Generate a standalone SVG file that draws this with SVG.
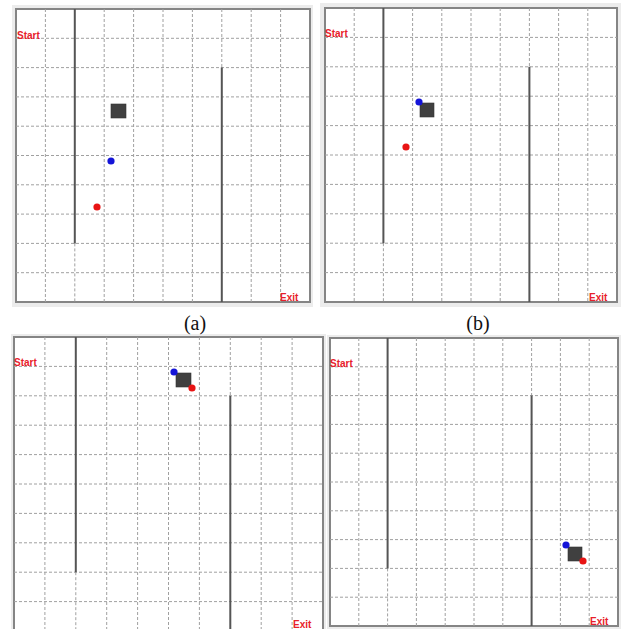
<svg xmlns="http://www.w3.org/2000/svg" width="621" height="629" viewBox="0 0 621 629">
<style>
.bg{fill:#ececec}
.frame{fill:#ffffff;stroke:#858585;stroke-width:2}
.grid{stroke:#a0a0a0;stroke-width:1;stroke-dasharray:3 2;fill:none}
.wall{stroke:#555555;stroke-width:2;fill:none}
.lbl{font-family:"Liberation Sans",Arial,sans-serif;font-weight:bold;font-size:10px;fill:#e8202a}
.block{fill:#404040;stroke:#333;stroke-width:0.6}
.blue{fill:#1414d8}
.red{fill:#e81414}
.cap{font-family:"Liberation Serif","Times New Roman",serif;font-size:20px;fill:#111;text-anchor:middle}
</style>
<rect width="621" height="629" fill="#ffffff"/>

<g id="panel-a">
<rect class="bg" x="12" y="5" width="301" height="302"/>
<rect class="frame" x="16" y="9" width="294" height="293"/>
<path class="grid" d="M45.4 9V302M104.2 9V302M133.6 9V302M163 9V302M192.4 9V302M251.2 9V302M280.6 9V302M74.8 243.4V302M221.8 9V67.6M16 38.3H310M16 67.6H310M16 96.9H310M16 126.2H310M16 155.5H310M16 184.8H310M16 214.1H310M16 243.4H310M16 272.7H310"/>
<path class="wall" d="M74.8 9V243.4M221.8 67.6V302"/>
<text class="lbl" x="17" y="38.5">Start</text>
<text class="lbl" x="280" y="300.5">Exit</text>
<rect class="block" x="111" y="104" width="15" height="14"/>
<circle class="blue" cx="111" cy="161" r="3.6"/>
<circle class="red" cx="97" cy="207" r="3.6"/>
</g>

<g id="panel-b">
<rect class="bg" x="320" y="3" width="301" height="304"/>
<rect class="frame" x="325" y="8" width="292" height="294"/>
<path class="grid" d="M354.2 8V302M412.6 8V302M441.8 8V302M471 8V302M500.2 8V302M558.6 8V302M587.8 8V302M383.4 243.2V302M529.4 8V66.8M325 37.4H617M325 66.8H617M325 96.2H617M325 125.6H617M325 155H617M325 184.4H617M325 213.8H617M325 243.2H617M325 272.6H617"/>
<path class="wall" d="M383.4 8V243.2M529.4 66.8V302"/>
<text class="lbl" x="325" y="37">Start</text>
<text class="lbl" x="589" y="300.5">Exit</text>
<rect class="block" x="420" y="103" width="14" height="14"/>
<circle class="blue" cx="419" cy="102" r="3.6"/>
<circle class="red" cx="406" cy="147" r="3.6"/>
</g>

<g id="panel-c">
<rect class="bg" x="11" y="334" width="315" height="295"/>
<rect class="frame" x="14" y="337" width="309" height="294"/>
<path class="grid" d="M44.9 337V631M106.7 337V631M137.6 337V631M168.5 337V631M199.4 337V631M261.2 337V631M292.1 337V631M75.8 572.2V631M230.3 337V395.8M14 366.4H323M14 395.8H323M14 425.2H323M14 454.6H323M14 484H323M14 513.4H323M14 542.8H323M14 572.2H323M14 601.6H323"/>
<path class="wall" d="M75.8 337V572.2M230.3 395.8V631"/>
<text class="lbl" x="14" y="366">Start</text>
<text class="lbl" x="293" y="628">Exit</text>
<rect class="block" x="176" y="373" width="15" height="14"/>
<circle class="blue" cx="174" cy="372" r="3.6"/>
<circle class="red" cx="192" cy="388" r="3.6"/>
</g>

<g id="panel-d">
<rect class="bg" x="327" y="335" width="294" height="294"/>
<rect class="frame" x="330" y="338" width="288" height="288"/>
<path class="grid" d="M358.8 338V626M416.4 338V626M445.2 338V626M474 338V626M502.8 338V626M560.4 338V626M589.2 338V626M387.6 568.4V626M531.6 338V395.6M330 366.8H618M330 395.6H618M330 424.4H618M330 453.2H618M330 482H618M330 510.8H618M330 539.6H618M330 568.4H618M330 597.2H618"/>
<path class="wall" d="M387.6 338V568.4M531.6 395.6V626"/>
<text class="lbl" x="330" y="367">Start</text>
<text class="lbl" x="590" y="625">Exit</text>
<rect class="block" x="568" y="547" width="14" height="14"/>
<circle class="blue" cx="566" cy="545" r="3.6"/>
<circle class="red" cx="583" cy="561" r="3.6"/>
</g>

<g id="captions">
<text class="cap" x="195" y="330">(a)</text>
<text class="cap" x="478" y="330">(b)</text>
</g>
</svg>
